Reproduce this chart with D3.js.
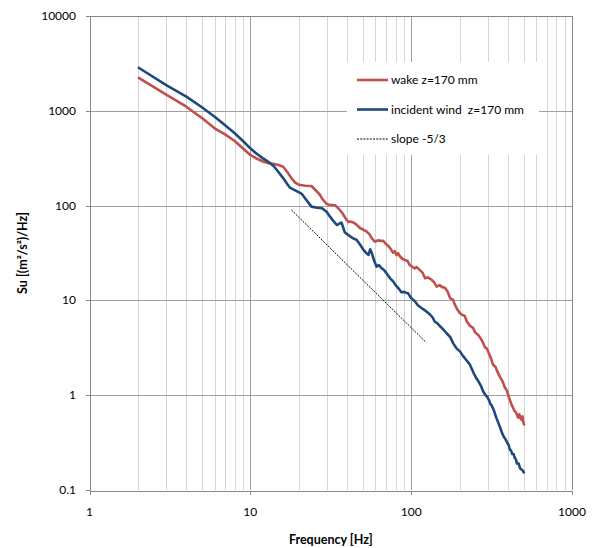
<!DOCTYPE html>
<html>
<head>
<meta charset="utf-8">
<script src="https://cdnjs.cloudflare.com/ajax/libs/d3/7.8.5/d3.min.js"></script>
<style>
    body { margin: 0; background: #fff; }
    .tickText { font-family: Lato, "Liberation Sans", sans-serif; font-size: 12px; fill: #000; }
    .axisText { font-family: Lato, "Liberation Sans", sans-serif; font-size: 12.5px; font-weight: bold; fill: #000; }
    .legendText { font-family: Lato, "Liberation Sans", sans-serif; font-size: 12px; fill: #000; }
</style>
</head>
<body>
<div class="chart"></div>
<script>
/*--------------------------------------------------------------------------
+++ Data
--------------------------------------------------------------------------*/
var wakeFreq = [2, 3, 4, 5, 6, 7, 8, 9, 10, 11, 12, 13, 14, 15, 16, 17, 18, 19, 20, 22,
    24, 26, 27, 28, 29.8, 31, 33.6, 36, 37.4, 39, 40.6, 42, 44, 45.7, 48, 50.5, 53, 55, 57, 59.5,
    62, 65, 67, 70, 72, 74, 77, 79, 81, 83, 85, 88, 91.5, 95, 98, 101, 105, 108, 113, 118,
    122, 127, 134, 139, 144, 150, 156, 162, 168, 175, 182, 186, 192, 200, 208, 215, 222, 232, 243, 250,
    262, 275, 288, 296, 303, 312, 323, 334, 345, 357, 370, 383, 394, 405, 415, 423, 433, 440, 448, 455,
    462, 470, 478, 485, 492, 498, 505];
var wakeSu = [2250, 1480, 1105, 840, 654, 560, 480, 400, 342, 312, 292, 280, 275, 268, 257, 225, 195, 175, 166, 162,
    161, 140, 131, 118, 104, 102, 101, 90, 83, 74, 67, 68, 66, 63, 58, 55.6, 53, 50, 45, 41.6,
    43, 42.5, 42.6, 39, 37.5, 35.6, 32, 33, 30, 31.5, 29.2, 27.5, 26.7, 26, 23.6, 22.8, 21.8, 22.5, 21, 19.5,
    17.1, 17.5, 16.5, 15.5, 14, 14.5, 13.8, 13.6, 12.5, 10.5, 10.2, 9.2, 8.2, 7.4, 7.0, 6.9, 6.0, 5.4, 5.1, 4.6,
    4.3, 3.8, 3.2, 3.1, 2.8, 2.5, 2.1, 2.0, 1.75, 1.55, 1.4, 1.2, 1.12, 0.95, 0.85, 0.78, 0.72, 0.68, 0.66, 0.62,
    0.58, 0.63, 0.57, 0.55, 0.6, 0.52, 0.48];

var windFreq = [2, 3, 4, 5, 6, 7, 8, 9, 10, 11, 12, 13.2, 14, 15, 16, 17, 17.6, 19, 20.8, 22,
    24, 26, 27.9, 29.8, 31.4, 33, 34.5, 36, 36.9, 38.7, 40.6, 42, 43.7, 45.7, 48.2, 50, 52.8, 54.3, 55.6, 57,
    59, 61, 63, 65.6, 68, 70, 74, 77.5, 80, 84, 87, 90, 96, 100, 106, 110, 116, 120, 125, 131,
    136, 140, 146, 152, 159, 166, 175, 183, 192, 201, 210, 220, 232, 245, 255, 262, 272, 280, 290, 296,
    305, 312, 318, 328, 338, 347, 357, 367, 378, 387, 394, 403, 410, 418, 425, 433, 440, 448, 455, 466,
    475, 485, 495, 505];
var windSu = [2880, 1870, 1410, 1090, 866, 700, 580, 480, 402, 350, 315, 283, 260, 225, 195, 168, 155, 145, 134, 118,
    97.5, 95, 93.7, 86, 76, 68, 62.4, 65, 66, 52, 49.2, 47, 45, 43.7, 38.6, 35, 31.4, 30.2, 34.6, 31.4,
    26, 22.7, 23.5, 21.8, 20.8, 19.5, 17.1, 15.8, 14.5, 13.2, 12.2, 12.3, 11.8, 10.6, 9.7, 8.9, 8.3, 8.0, 7.6, 7.1,
    6.6, 6.0, 5.7, 5.3, 4.9, 4.5, 4.1, 3.5, 3.1, 2.9, 2.6, 2.35, 2.1, 1.7, 1.5, 1.4, 1.25, 1.1, 1.0, 0.97,
    0.88, 0.80, 0.77, 0.68, 0.58, 0.52, 0.46, 0.40, 0.36, 0.34, 0.32, 0.30, 0.27, 0.26, 0.24, 0.24, 0.22, 0.21, 0.19, 0.19,
    0.17, 0.165, 0.16, 0.15];

// reference slope line, two end points
var slopeFreq = [18, 124];
var slopeSu = [90, 3.6];

var xTicks = [1, 10, 100, 1000];
var yTicks = [0.1, 1, 10, 100, 1000, 10000];

var seriesNames = ["wake z=170 mm", "incident wind  z=170 mm", "slope -5/3"];

/*--------------------------------------------------------------------------
+++ Step 1: Set up chart space
--------------------------------------------------------------------------*/
var svgWidth = 594;
var svgHeight = 548;

var plot = { left: 89.5, right: 572, top: 16, bottom: 490 };

var svg = d3.select(".chart")
    .append("svg")
    .attr("width", svgWidth)
    .attr("height", svgHeight);

var xLogScale = d3.scaleLog()
    .domain([1, 1000])
    .range([plot.left, plot.right]);

var yLogScale = d3.scaleLog()
    .domain([0.1, 10000])
    .range([plot.bottom, plot.top]);

/*--------------------------------------------------------------------------
+++ Step 2: Gridlines
--------------------------------------------------------------------------*/
// minor vertical lines 2..9 of every decade
var minorX = [];
xTicks.slice(0, -1).forEach(function (d) {
    for (var k = 2; k <= 9; k++) minorX.push(d * k);
});

var grid = svg.append("g").attr("shape-rendering", "crispEdges");

grid.selectAll(".minorX")
    .data(minorX)
    .enter()
    .append("line")
    .attr("x1", d => Math.round(xLogScale(d)) + 0.5)
    .attr("x2", d => Math.round(xLogScale(d)) + 0.5)
    .attr("y1", plot.top)
    .attr("y2", plot.bottom)
    .attr("stroke", "#d4d4d4")
    .attr("stroke-width", 1);

grid.selectAll(".majorX")
    .data(xTicks.slice(1, -1))
    .enter()
    .append("line")
    .attr("x1", d => Math.round(xLogScale(d)) + 0.5)
    .attr("x2", d => Math.round(xLogScale(d)) + 0.5)
    .attr("y1", plot.top)
    .attr("y2", plot.bottom)
    .attr("stroke", "#a0a0a0")
    .attr("stroke-width", 1);

grid.selectAll(".majorY")
    .data(yTicks.slice(1, -1))
    .enter()
    .append("line")
    .attr("x1", plot.left)
    .attr("x2", plot.right)
    .attr("y1", d => Math.round(yLogScale(d)) + 0.5)
    .attr("y2", d => Math.round(yLogScale(d)) + 0.5)
    .attr("stroke", "#a0a0a0")
    .attr("stroke-width", 1);

// legend box sits inside the plot and hides the grid behind it
svg.append("rect")
    .attr("x", 347)
    .attr("y", 62)
    .attr("width", 192)
    .attr("height", 93)
    .attr("fill", "#fff");

/*--------------------------------------------------------------------------
+++ Step 3: Axes (ticks point outward, labels drawn by hand)
--------------------------------------------------------------------------*/
var bottomAxis = d3.axisBottom(xLogScale)
    .tickValues(xTicks)
    .tickSize(4)
    .tickFormat("");
var leftAxis = d3.axisLeft(yLogScale)
    .tickValues(yTicks)
    .tickSize(4)
    .tickFormat("");

var xAxisG = svg.append("g")
    .attr("transform", `translate(0, ${plot.bottom + 0.5})`)
    .call(bottomAxis);
var yAxisG = svg.append("g")
    .attr("transform", `translate(${Math.round(plot.left) - 0.5}, 0)`)
    .call(leftAxis);

[xAxisG, yAxisG].forEach(function (g) {
    g.selectAll("path, line").attr("stroke", "#868686").attr("shape-rendering", "crispEdges");
});

// top and right border
svg.append("path")
    .attr("d", `M${Math.round(plot.left) - 0.5},${plot.top + 0.5}H${Math.round(plot.right) + 0.5}V${plot.bottom}`)
    .attr("fill", "none")
    .attr("stroke", "#868686")
    .attr("shape-rendering", "crispEdges");

svg.selectAll(".xLabel")
    .data(xTicks)
    .enter()
    .append("text")
    .attr("class", "tickText")
    .attr("x", d => xLogScale(d))
    .attr("y", 516)
    .attr("text-anchor", "middle")
    .text(d => d);

svg.selectAll(".yLabel")
    .data(yTicks)
    .enter()
    .append("text")
    .attr("class", "tickText")
    .attr("x", 76)
    .attr("y", d => yLogScale(d) + 4)
    .attr("text-anchor", "end")
    .text(d => d);

/*--------------------------------------------------------------------------
+++ Step 4: Lines
--------------------------------------------------------------------------*/
var line = d3.line()
    .x(d => xLogScale(d[0]))
    .y(d => yLogScale(d[1]));

svg.append("path")
    .datum(d3.zip(slopeFreq, slopeSu))
    .attr("d", line)
    .attr("fill", "none")
    .attr("stroke", "#000")
    .attr("stroke-width", 1)
    .attr("stroke-dasharray", "2,1.2");

svg.append("path")
    .datum(d3.zip(wakeFreq, wakeSu))
    .attr("d", line)
    .attr("fill", "none")
    .attr("stroke", "#C0504D")
    .attr("stroke-width", 2.6)
    .attr("stroke-linejoin", "round");

svg.append("path")
    .datum(d3.zip(windFreq, windSu))
    .attr("d", line)
    .attr("fill", "none")
    .attr("stroke", "#1F497D")
    .attr("stroke-width", 2.6)
    .attr("stroke-linejoin", "round");

/*--------------------------------------------------------------------------
+++ Step 5: Legend
--------------------------------------------------------------------------*/
var legendColors = ["#C0504D", "#1F497D", "#000"];
var legendRows = svg.selectAll(".legendRow")
    .data(seriesNames)
    .enter()
    .append("g")
    .attr("transform", (d, i) => `translate(357, ${80 + i * 29.5})`);

legendRows.append("line")
    .attr("x1", 0)
    .attr("x2", 31)
    .attr("stroke", (d, i) => legendColors[i])
    .attr("stroke-width", (d, i) => i < 2 ? 2.6 : 1)
    .attr("stroke-dasharray", (d, i) => i < 2 ? null : "2,1.2");

legendRows.append("text")
    .attr("class", "legendText")
    .attr("x", 34)
    .attr("y", 4)
    .attr("xml:space", "preserve")
    .text(d => d);

/*--------------------------------------------------------------------------
+++ Step 6: Axis titles
--------------------------------------------------------------------------*/
svg.append("text")
    .attr("class", "axisText")
    .attr("x", (plot.left + plot.right) / 2)
    .attr("y", 544)
    .attr("text-anchor", "middle")
    .text("Frequency [Hz]");

svg.append("text")
    .attr("class", "axisText")
    .attr("transform", `translate(27, ${(plot.top + plot.bottom) / 2}) rotate(-90)`)
    .attr("text-anchor", "middle")
    .text("Su [(m²/s²)/Hz]");
</script>
</body>
</html>
